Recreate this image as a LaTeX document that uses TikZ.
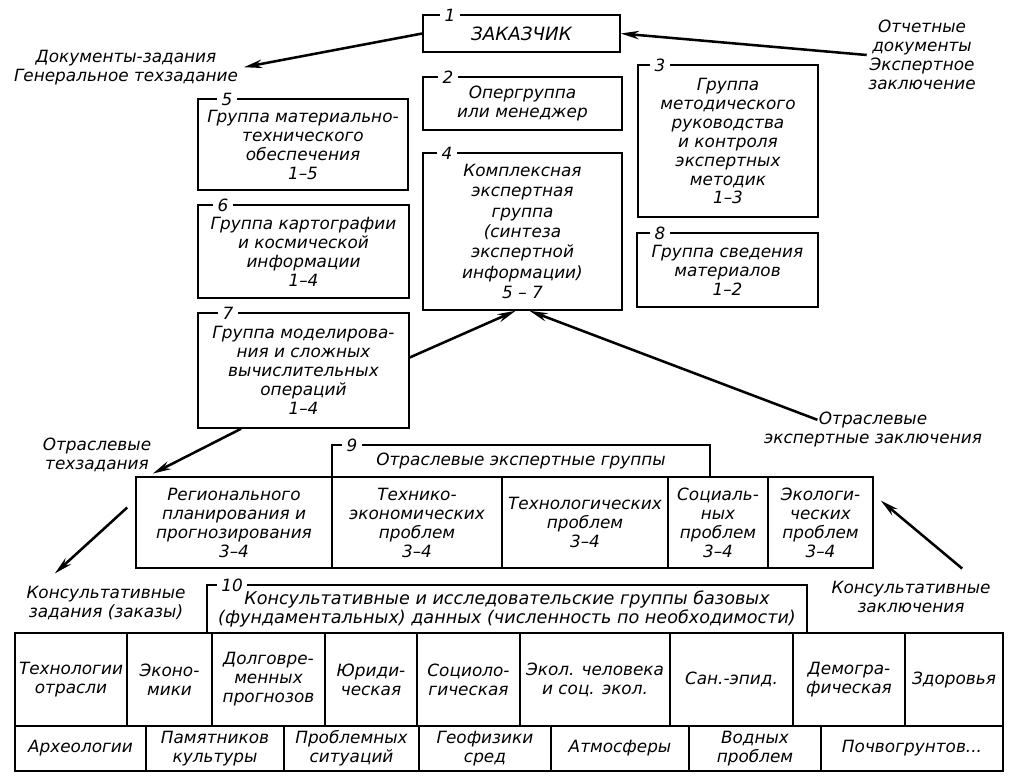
\documentclass[tikz,border=0pt]{standalone}
\usepackage{fontspec}
\setmainfont{DejaVu Sans}
\usetikzlibrary{arrows.meta}
\def\pxu{0.025cm}

\begin{document}
\begin{tikzpicture}[x=0.025cm,y=-0.025cm,
    every node/.style={font=\itshape\fontsize{12}{13.5}\selectfont,align=center,inner sep=1pt},
    grp/.style 2 args={draw,line width=1.1pt,minimum width=#1*\pxu,minimum height=#2*\pxu},
    num/.style={fill=white,inner xsep=3pt,inner ysep=1pt},
    arr/.style={-{Stealth[length=13pt,width=6pt]},line width=1.8pt}]
         \useasboundingbox (0,0) rectangle (1010,776) ;
         %% upper groups
         \node[grp={197}{37},font=\itshape\fontsize{13}{14}\selectfont] (b1) at (521.5,33.5) {ЗАКАЗЧИК} ;
         \node[grp={199}{53}] (b2) at (522.5,103.5) {Опергруппа\\или менеджер} ;
         \node[grp={180}{152}] (b3) at (728,141) {Группа\\методического\\руководства\\и контроля\\экспертных\\методик\\1–3} ;
         \node[grp={199}{157},font=\itshape\fontsize{12}{14.5}\selectfont] (b4) at (522.5,231.5) {Комплексная\\экспертная\\группа\\(синтеза\\экспертной\\информации)\\5 – 7} ;
         \node[grp={210}{91}] (b5) at (303,144.5) {Группа материально-\\технического\\обеспечения\\1–5} ;
         \node[grp={211}{93}] (b6) at (303.5,251.5) {Группа картографии\\и космической\\информации\\1–4} ;
         \node[grp={211}{115}] (b7) at (303.5,370.5) {Группа моделирова-\\ния и сложных\\вычислительных\\операций\\1–4} ;
         \node[grp={181}{74}] (b8) at (727.5,270) {Группа сведения\\материалов\\1–2} ;
         \node[num] at (450,15) {1} ;
         \node[num] at (448,77) {2} ;
         \node[num] at (660,65) {3} ;
         \node[num] at (447,153) {4} ;
         \node[num] at (227,99) {5} ;
         \node[num] at (223,205) {6} ;
         \node[num] at (228,313) {7} ;
         \node[num] at (660,233) {8} ;
         %% industry expert groups
         \node[grp={378}{32}] (h9) at (521,461) {Отраслевые экспертные группы} ;
         \node[grp={196}{91}] (r1) at (234,522.5) {Регионального\\планирования и\\прогнозирования\\3–4} ;
         \node[grp={170}{91}] (r2) at (417,522.5) {Технико-\\экономических\\проблем\\3–4} ;
         \node[grp={166}{91}] (r3) at (585,522.5) {Технологических\\проблем\\3–4} ;
         \node[grp={100}{91}] (r4) at (718,522.5) {Социаль-\\ных\\проблем\\3–4} ;
         \node[grp={105}{91}] (r5) at (820.5,522.5) {Экологи-\\ческих\\проблем\\3–4} ;
         \node[num] at (352,445) {9} ;
         %% base data groups
         \node[grp={600}{48},font=\itshape\fontsize{12.5}{14}\selectfont] (h10) at (507,609) {Консультативные и исследовательские группы базовых\\(фундаментальных) данных (численность по необходимости)} ;
         \node[num] at (232,585) {10} ;
         \node[grp={112}{93}] (a1) at (71,679.5) {Технологии\\отрасли} ;
         \node[grp={85}{93}] (a2) at (169.5,679.5) {Эконо-\\мики} ;
         \node[grp={113}{93}] (a3) at (268.5,679.5) {Долговре-\\менных\\прогнозов} ;
         \node[grp={92}{93}] (a4) at (371,679.5) {Юриди-\\ческая} ;
         \node[grp={103}{93}] (a5) at (468.5,679.5) {Социоло-\\гическая} ;
         \node[grp={150}{93}] (a6) at (595,679.5) {Экол. человека\\и соц. экол.} ;
         \node[grp={123}{93}] (a7) at (731.5,679.5) {Сан.-эпид.} ;
         \node[grp={112}{93}] (a8) at (849,679.5) {Демогра-\\фическая} ;
         \node[grp={98}{93}] (a9) at (954,679.5) {Здоровья} ;
         \node[grp={131}{45}] (c1) at (80.5,748.5) {Археологии} ;
         \node[grp={138}{45}] (c2) at (215,748.5) {Памятников\\культуры} ;
         \node[grp={135}{45}] (c3) at (351.5,748.5) {Проблемных\\ситуаций} ;
         \node[grp={132}{45}] (c4) at (485,748.5) {Геофизики\\сред} ;
         \node[grp={138}{45}] (c5) at (620,748.5) {Атмосферы} ;
         \node[grp={132}{45}] (c6) at (755,748.5) {Водных\\проблем} ;
         \node[grp={182}{45}] (c7) at (912,748.5) {Почвогрунтов...} ;
         %% flows
         \node (ldoc) at (126,68) {Документы-задания\\Генеральное техзадание} ;
         \node (lrep) at (922,55) {Отчетные\\документы\\Экспертное\\заключение} ;
         \node (lexp) at (873,429) {Отраслевые\\экспертные заключения} ;
         \node (ltz) at (97,455) {Отраслевые\\техзадания} ;
         \node (lkz) at (106,603) {Консультативные\\задания (заказы)} ;
         \node (lkzz) at (911,597) {Консультативные\\заключения} ;
         \draw[arr,shorten >=3pt] (b1.west) -- (ldoc.east) ;
         \draw[arr] (lrep.west) -- (b1.east) ;
         \draw[arr] (b7.7) -- (b4.265) ;
         \draw[arr] ([xshift=55*\pxu,yshift=-10*\pxu]lexp.north west) -- (b4.275) ;
         \draw[arr] (b7.223) -- (ltz.south east) ;
         \draw[arr] ([xshift=-8*\pxu,yshift=15*\pxu]r1.west) -- ([xshift=30*\pxu,yshift=11*\pxu]lkz.north west) ;
         \draw[arr] ([xshift=-30*\pxu,yshift=11*\pxu]lkzz.north east) -- ([xshift=7*\pxu,yshift=22*\pxu]r5.east) ;
\end{tikzpicture}
\end{document}
